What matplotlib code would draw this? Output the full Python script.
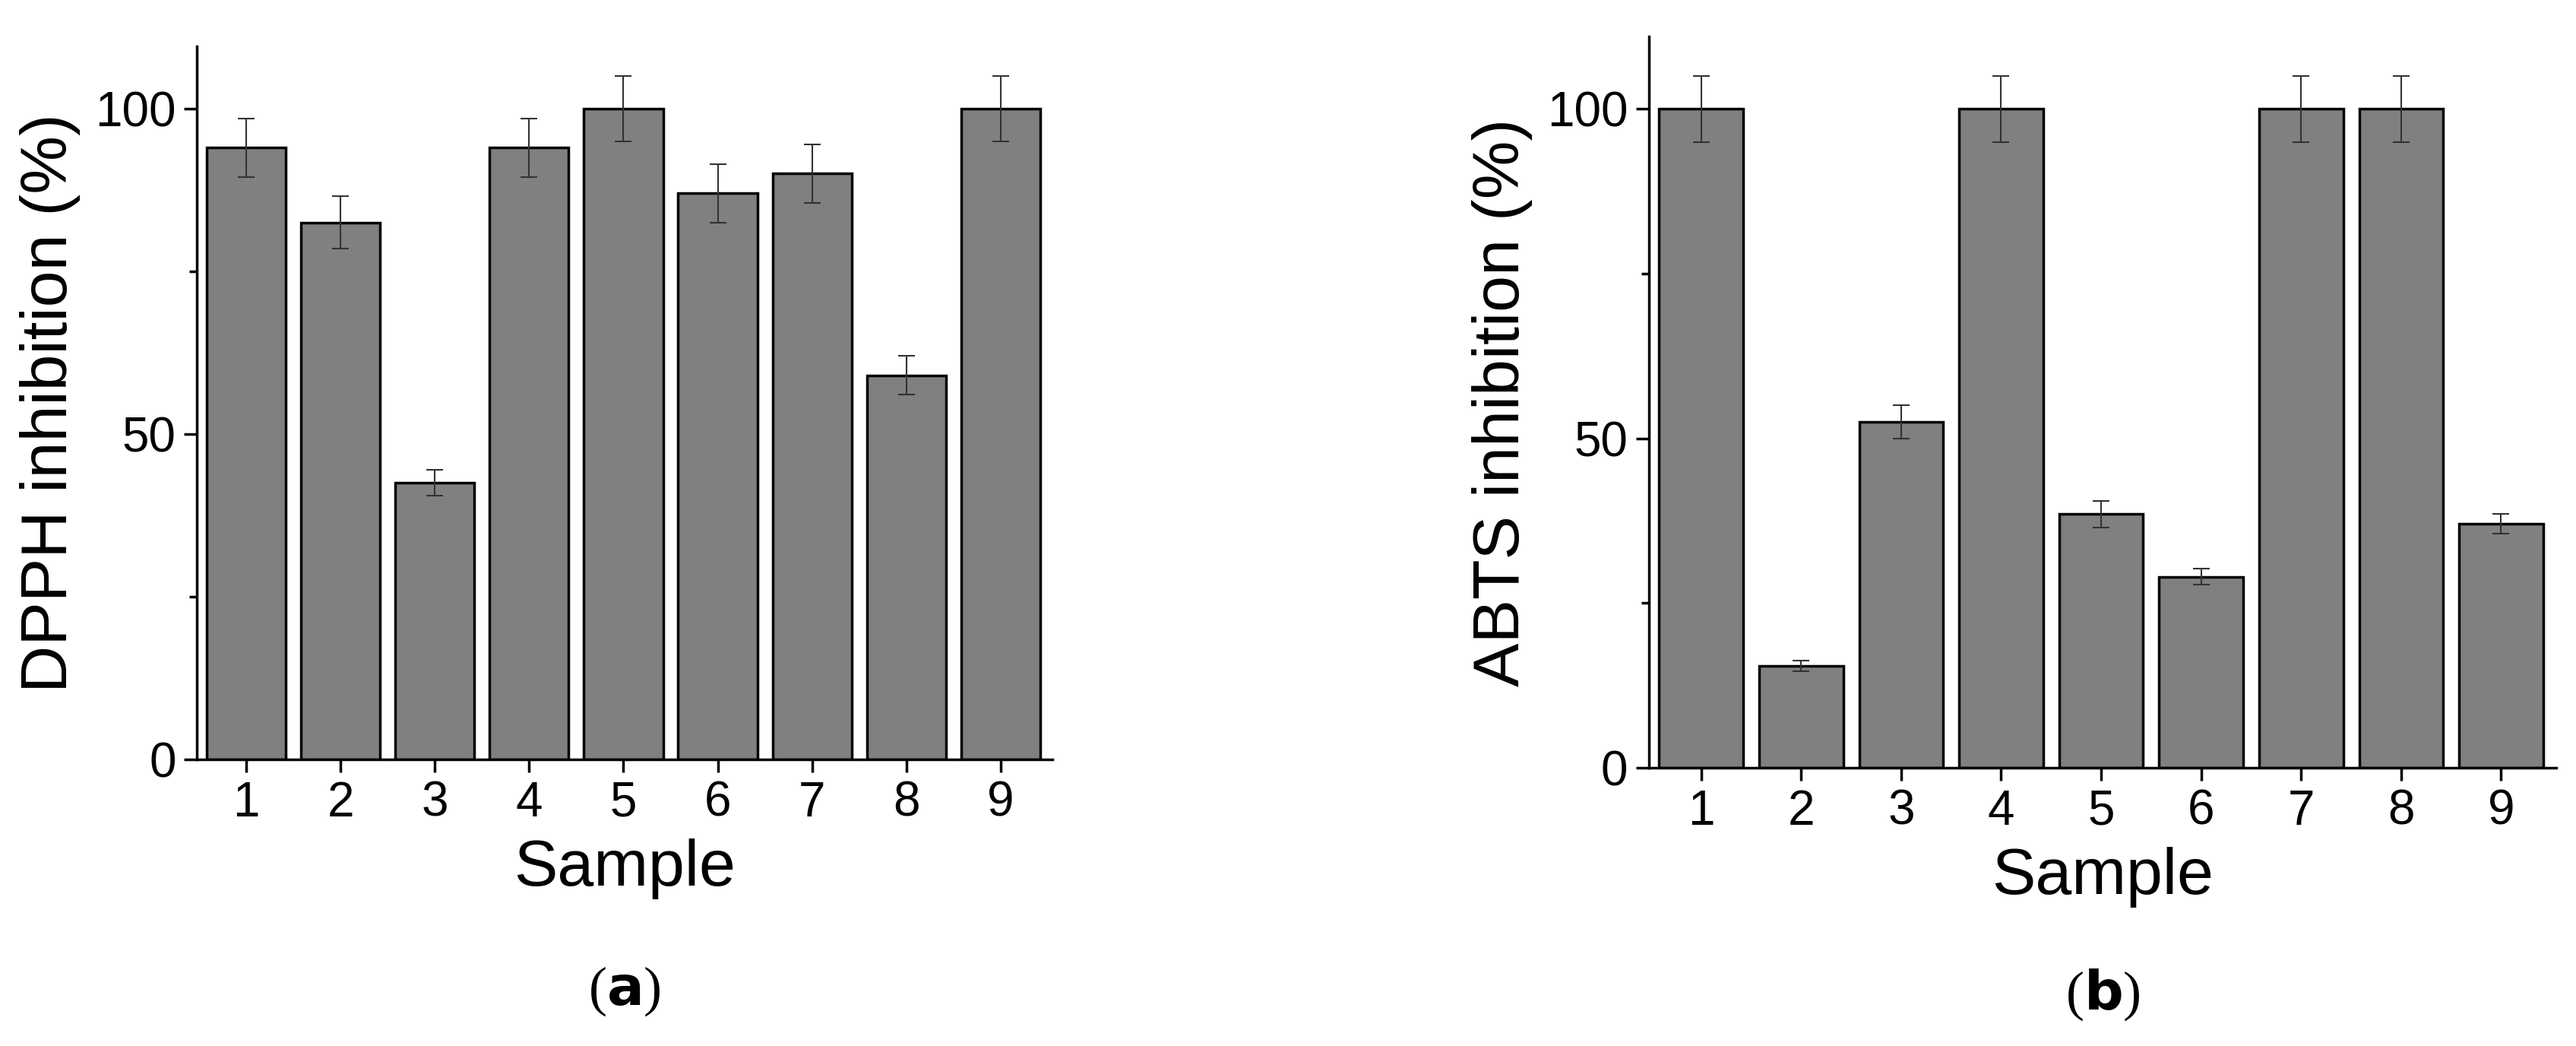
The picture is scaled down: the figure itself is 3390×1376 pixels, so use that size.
import matplotlib.pyplot as plt
from matplotlib.ticker import MultipleLocator

plt.rcParams['font.family'] = ['Liberation Sans', 'DejaVu Sans']

samples = [1, 2, 3, 4, 5, 6, 7, 8, 9]
dpph = [94, 82.5, 42.5, 94, 100, 87, 90, 59, 100]
dpph_err = [4.5, 4, 2, 4.5, 5, 4.5, 4.5, 3, 5]
abts = [100, 15.5, 52.5, 100, 38.5, 29, 100, 100, 37]
abts_err = [5, 0.8, 2.5, 5, 2, 1.2, 5, 5, 1.5]

fig = plt.figure(figsize=(33.91, 13.76), dpi=100)
ax1 = fig.add_axes([0.0765, 0.274, 0.332, 0.682])
ax2 = fig.add_axes([0.640, 0.266, 0.352, 0.699])


def draw(ax, vals, errs, ylabel, ymax, caption, cap_y):
    ax.bar(samples, vals, width=0.84, color='#808080', edgecolor='black',
           linewidth=2.5, yerr=errs, error_kw=dict(ecolor='#333333', elinewidth=1.5,
                                                     capsize=8, capthick=1.5))
    ax.set_xlim(0.48, 9.55)
    ax.set_ylim(0, ymax)
    ax.set_xticks(samples)
    ax.yaxis.set_major_locator(MultipleLocator(50))
    ax.yaxis.set_minor_locator(MultipleLocator(25))
    for s in ['top', 'right']:
        ax.spines[s].set_visible(False)
    for s in ['left', 'bottom']:
        ax.spines[s].set_linewidth(2.5)
    ax.tick_params(which='major', direction='out', length=12, width=2.5,
                   labelsize=46, pad=8)
    ax.tick_params(which='minor', direction='out', length=7, width=2.5)
    ax.set_xlabel('Sample', fontsize=62, labelpad=12)
    ax.set_ylabel(ylabel, fontsize=62, labelpad=14)
    ax.text(0.5, cap_y, caption, transform=ax.transAxes, ha='center', va='center',
            fontsize=52, family='Liberation Serif')


draw(ax1, dpph, dpph_err, 'DPPH inhibition (%)', 109.6, '($\\bf{a}$)', -0.325)
draw(ax2, abts, abts_err, 'ABTS inhibition (%)', 111, '($\\bf{b}$)', -0.31)

fig.savefig('out.png', dpi=100)
